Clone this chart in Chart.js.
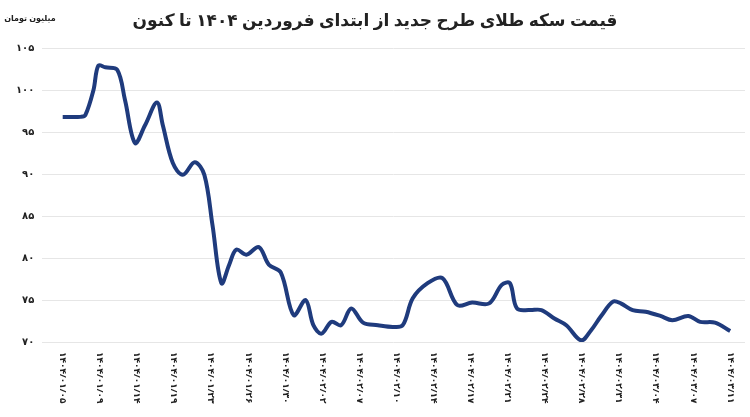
<!DOCTYPE html>
<html><head><meta charset="utf-8">
<script src="https://cdn.jsdelivr.net/npm/chart.js@4"></script>
<style>html,body{margin:0;background:#fff}#wrap{width:750px;height:417px;position:relative}</style>
</head><body><div id="wrap"><canvas id="c"></canvas></div>
<script>
const DATE_LABELS = ["۱۴۰۴/۰۱/۰۵","۱۴۰۴/۰۱/۰۹","۱۴۰۴/۰۱/۱۴","۱۴۰۴/۰۱/۱۹","۱۴۰۴/۰۱/۲۳","۱۴۰۴/۰۱/۲۶","۱۴۰۴/۰۱/۳۰","۱۴۰۴/۰۲/۰۲","۱۴۰۴/۰۲/۰۷","۱۴۰۴/۰۲/۱۰","۱۴۰۴/۰۲/۱۴","۱۴۰۴/۰۲/۱۷","۱۴۰۴/۰۲/۲۱","۱۴۰۴/۰۲/۲۴","۱۴۰۴/۰۲/۲۸","۱۴۰۴/۰۲/۳۱","۱۴۰۴/۰۳/۰۴","۱۴۰۴/۰۳/۰۷","۱۴۰۴/۰۳/۱۱"];
// position along the date axis (in label steps)
const X_POS = [0,.48,.61,.83,.96,1.15,1.47,1.68,1.95,2.22,2.54,2.7,2.97,3.24,3.56,3.82,4.04,4.28,4.49,4.68,4.95,5.29,5.56,5.88,6.23,6.55,6.76,6.98,7.25,7.51,7.78,8.1,8.5,8.9,9.17,9.44,9.84,10.24,10.64,11.04,11.5,11.84,12.06,12.25,12.59,12.91,13.26,13.58,13.98,14.25,14.52,14.84,15.05,15.37,15.72,16.12,16.44,16.87,17.19,17.59,18];
const PRICE = [96.8,96.8,97,100,102.9,102.7,102.4,98.8,93.7,95.8,98.5,95.8,91.3,89.9,91.4,89.9,83.9,77,79.2,81,80.4,81.3,79.2,78.3,73.2,75,72,71,72.4,72,74,72.3,72,71.8,72,75.2,77,77.6,74.4,74.7,74.6,76.8,77,74,73.8,73.8,72.8,72,70.2,71.4,73.1,74.8,74.6,73.8,73.6,73.1,72.6,73.1,72.4,72.3,71.3];
const faDigits = (n) => String(n).replace(/\d/g, (d) => "۰۱۲۳۴۵۶۷۸۹"[d]);
const FONT = "'Noto Sans', 'DejaVu Sans', sans-serif";

const decor = {
  id: "decor",
  afterDraw(chart) {
    const ctx = chart.ctx, xs = chart.scales.x, bottom = chart.chartArea.bottom;
    ctx.save();
    ctx.fillStyle = "#222";
    ctx.font = "bold 17px " + FONT;
    ctx.textAlign = "center";
    ctx.textBaseline = "middle";
    ctx.direction = "rtl";
    ctx.fillText("قیمت سکه طلای طرح جدید از ابتدای فروردین ۱۴۰۴ تا کنون", 375, 21);
    ctx.font = "bold 8px " + FONT;
    ctx.fillText("میلیون تومان", 30, 19);
    ctx.font = "bold 9px " + FONT;
    DATE_LABELS.forEach((lab, i) => {
      const x = xs.getPixelForValue(i);
      ctx.save();
      ctx.translate(x, bottom + 10);
      ctx.rotate(Math.PI / 2);
      ctx.direction = "ltr";
      ctx.textAlign = "left";
      ctx.textBaseline = "middle";
      ctx.fillText(lab, 0, 0);
      ctx.restore();
    });
    ctx.restore();
  }
};

new Chart(document.getElementById("c"), {
  type: "line",
  data: { datasets: [{ data: X_POS.map((x, i) => ({ x, y: PRICE[i] })), borderColor: "#1f3b7d", borderWidth: 4, tension: 0.35, pointRadius: 0 }] },
  options: {
    responsive: true, maintainAspectRatio: false, animation: false,
    layout: { padding: { top: 48, bottom: 67, right: 5, left: 8 } },
    plugins: { legend: { display: false }, tooltip: { enabled: false } },
    scales: {
      x: { type: "linear", min: -0.55, max: 18.4, ticks: { display: false }, grid: { display: false }, border: { display: false } },
      y: { min: 70, max: 105, ticks: { stepSize: 5, color: "#222", font: { family: FONT, size: 10, weight: "bold" }, callback: (v) => faDigits(v), padding: 8 },
           grid: { color: "#e6e6e6", drawTicks: false }, border: { display: false } }
    }
  },
  plugins: [decor]
});
</script></body></html>
